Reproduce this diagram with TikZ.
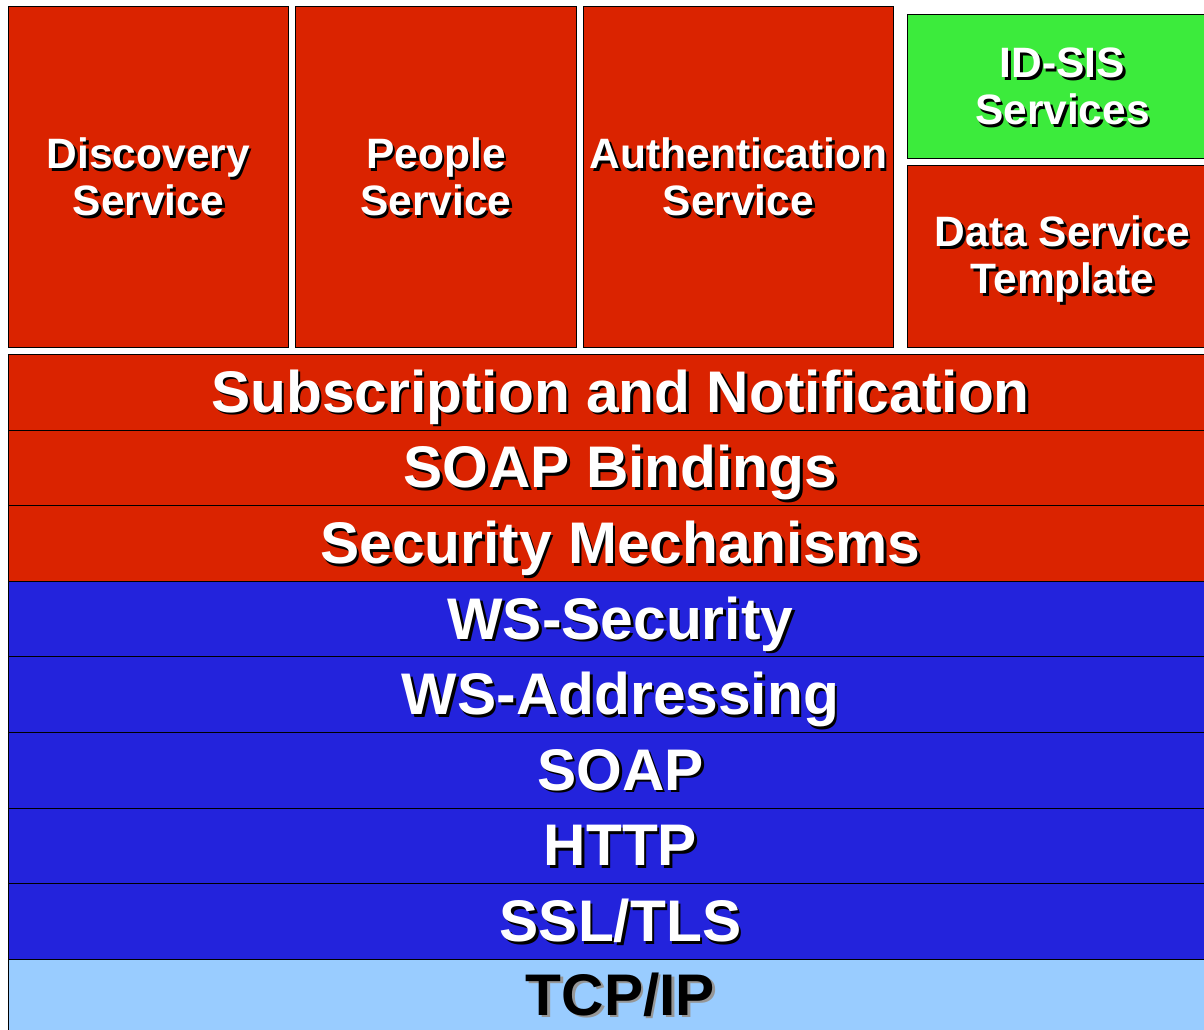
\documentclass[tikz,border=0pt]{standalone}
\usepackage{fontspec}
\setmainfont{Liberation Sans}
\begin{document}
\begin{tikzpicture}[x=1pt,y=-1pt,
  box/.style={draw=black, line width=0.9pt, inner sep=0pt, anchor=north west},
  red box/.style={box, fill=svcred},
  blue box/.style={box, fill=wsblue},
  small txt/.style={font=\bfseries\fontsize{42.5}{47}\selectfont, align=center, inner sep=0pt},
  big txt/.style={font=\bfseries\fontsize{58.7}{60}\selectfont, inner sep=0pt, anchor=base},
  shade/.style={text=black, xshift=2.6pt, yshift=-2.6pt},
  face/.style={text=white}]
\definecolor{svcred}{RGB}{218,35,0}
\definecolor{wsblue}{RGB}{35,35,220}
\definecolor{sisgreen}{RGB}{60,235,60}
\definecolor{tcpblue}{RGB}{153,204,255}
\definecolor{tcpshade}{RGB}{150,150,150}
\useasboundingbox (0,0) rectangle (1204,1029);
\clip (0,0) rectangle (1204,1029);
\fill[white] (0,0) rectangle (1204,1029);

% upper row of services
\node[red box, minimum width=280pt, minimum height=341pt] (disc) at (8,6) {};
\node[red box, minimum width=281pt, minimum height=341pt] (people) at (295,6) {};
\node[red box, minimum width=310pt, minimum height=341pt] (auth) at (583,6) {};
\node[box, fill=sisgreen, minimum width=310pt, minimum height=144pt] (idsis) at (907,14) {};
\node[red box, minimum width=310pt, minimum height=182pt] (dst) at (907,165) {};

\foreach \n/\t/\dy in {disc/{Discovery\\Service}/0, people/{People\\Service}/0,
    auth/{Authentication\\Service}/0, idsis/{ID-SIS\\Services}/0,
    dst/{Data Service\\Template}/3} {
  \node[small txt, shade, yshift=-\dy pt] at (\n.center) {\t};
  \node[small txt, face, yshift=-\dy pt] at (\n.center) {\t};
}

% protocol layers
\foreach \n/\c/\row in {sub/svcred/0, bind/svcred/1, secm/svcred/2,
    wssec/wsblue/3, wsaddr/wsblue/4, soap/wsblue/5, http/wsblue/6,
    ssl/wsblue/7} {
  \node[box, fill=\c, minimum width=1224pt, minimum height=75.6pt]
    (\n) at (8,354+75.6*\row) {};
}
\node[box, fill=tcpblue, minimum width=1224pt, minimum height=90pt]
  (tcp) at (8,354+75.6*8) {};

\foreach \n/\t in {sub/{Subscription and Notification}, bind/{SOAP Bindings},
    secm/{Security Mechanisms}, wssec/{WS-Security}, wsaddr/{WS-Addressing},
    soap/{SOAP}, http/{HTTP}, ssl/{SSL/TLS}} {
  \coordinate (\n-base) at ([yshift=-58.3pt]\n.north);
  \node[big txt, shade] at (\n-base) {\t};
  \node[big txt, face] at (\n-base) {\t};
}
\coordinate (tcp-base) at ([yshift=-56.5pt]tcp.north);
\node[big txt, text=tcpshade, xshift=2.6pt, yshift=-2.6pt] at (tcp-base) {TCP/IP};
\node[big txt, text=black] at (tcp-base) {TCP/IP};
\end{tikzpicture}
\end{document}
